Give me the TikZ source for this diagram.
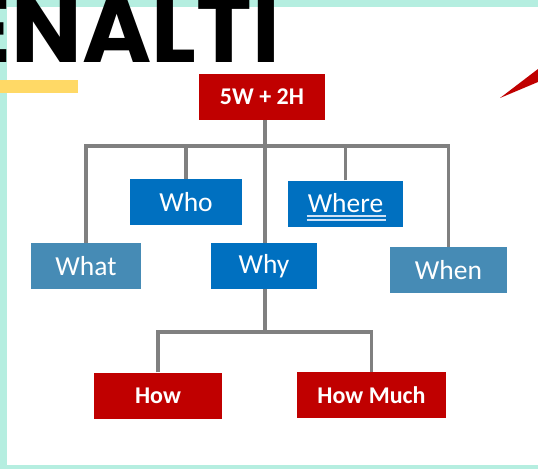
\documentclass[tikz,border=0pt]{standalone}
\usepackage{fontspec}
\setmainfont{Carlito}
\newfontfamily\headfont{Poppins Bold}
\usetikzlibrary{calc}
\definecolor{mint}{HTML}{B5EEE0}
\definecolor{sunny}{HTML}{FFD966}
\definecolor{deepred}{HTML}{C00000}
\definecolor{brightblue}{HTML}{0070C0}
\definecolor{steelblue}{HTML}{468BB5}
\definecolor{linegray}{HTML}{808080}
\definecolor{underlineblue}{HTML}{CFE2F5}
\begin{document}
\begin{tikzpicture}[x=1pt,y=-1pt,
  box/.style={inner sep=0pt, minimum height=46pt, text=white},
  redbox/.style={box, fill=deepred, font=\bfseries\fontsize{24}{24}\selectfont},
  bluebox/.style={box, fill=brightblue, font=\fontsize{27.5}{27.5}\selectfont},
  steelbox/.style={box, fill=steelblue, font=\fontsize{27.5}{27.5}\selectfont},
  conn/.style={draw=linegray, line width=3.6pt},
  uline/.style={draw=underlineblue, line width=1.5pt}
]
\useasboundingbox (0,0) rectangle (538,469);
\clip (0,0) rectangle (538,469);
\fill[white] (0,0) rectangle (538,469);

% mint frame
\fill[mint] (0,0) rectangle (7,469);
\fill[mint] (0,0) rectangle (538,7);
\fill[mint] (0,465) rectangle (538,469);

% headline and accent bar
\node[anchor=base east, inner sep=0pt, text depth=0pt, font=\headfont\fontsize{94}{94}\selectfont] (head) at (280,62) {ENALTI};
\fill[sunny] (0,80) rectangle (78,93);

% red wedge at the top right
\fill[deepred] (500,98) -- (538,69) -- (538,82) -- cycle;

% boxes
\node[redbox, minimum width=126pt] (top) at (262,97) {5W + 2H};
\node[bluebox, minimum width=112pt] (who) at (186,202) {Who};
\node[bluebox, minimum width=115pt] (where) at (345.5,203.5) {Where};
\node[steelbox, minimum width=110pt] (what) at (86,266) {What};
\node[bluebox, minimum width=106pt] (why) at (264,266) {Why};
\node[steelbox, minimum width=117pt] (when) at (448.5,270) {When};
\node[redbox, minimum width=128pt] (how) at (158,395.5) {How};
\node[redbox, minimum width=149pt] (howmuch) at (371.5,395) {How Much};

% double underline of "Where"
\draw[uline] ($(where.center)+(-39,12.5)$) -- ($(where.center)+(40,12.5)$);
\draw[uline] ($(where.center)+(-39,16.5)$) -- ($(where.center)+(40,16.5)$);

% connectors
\coordinate (hub) at (265,146);
\coordinate (hubb) at (265,332);
\draw[conn] (top.south -| hub) -- (why.north -| hub);
\draw[conn] (what.north) |- (hub) -| (when.north);
\draw[conn] (who.north) -- (who.north |- hub);
\draw[conn] (where.north) -- (where.north |- hub);
\draw[conn] (why.south -| hubb) -- (hubb);
\draw[conn] (how.north) |- (hubb) -| (howmuch.north);
\end{tikzpicture}
\end{document}
